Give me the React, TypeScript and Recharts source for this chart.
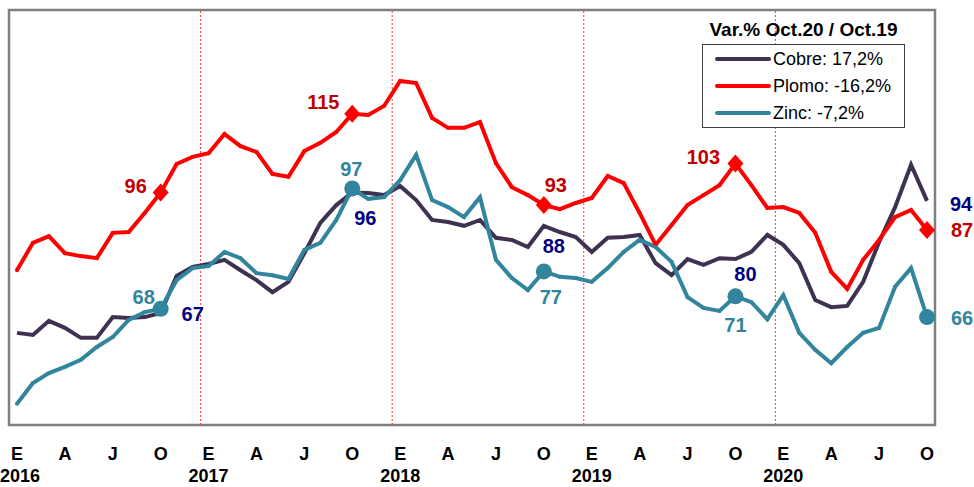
import React from "react";
import { LineChart, Line, XAxis, YAxis, ReferenceLine, ReferenceArea } from "recharts";

// Índices mensuales, enero 2016 - octubre 2020
const cobre = [
  62.2, 61.7, 65.1, 63.4, 61.0, 61.0, 66.0, 65.8, 66.0, 67,
  75.9, 78.1, 78.8, 79.8, 77.3, 74.9, 72.0, 74.5, 81.4, 88.7,
  93.0, 96, 95.9, 95.4, 97.6, 94.2, 89.4, 88.9, 88.0, 89.4,
  85.1, 84.6, 82.9, 88, 86.5, 85.3, 81.7, 85.1, 85.3, 85.8,
  79.0, 76.1, 80.0, 78.6, 80.2, 80, 81.7, 85.8, 83.4, 79.0,
  70.1, 68.4, 68.7, 74.5, 84.1, 92.5, 102.7, 94,
];
const plomo = [
  77.3, 83.9, 85.5, 81.4, 80.7, 80.2, 86.3, 86.5, 91.1, 96,
  102.9, 104.6, 105.5, 110.1, 107.2, 105.8, 100.5, 99.8, 106.0, 108.0,
  110.6, 115, 114.7, 116.9, 122.9, 122.4, 114.0, 111.6, 111.6, 113.0,
  103.1, 97.3, 95.4, 93, 92.0, 93.5, 94.7, 100.0, 98.3, 91.1,
  83.4, 88.2, 93.0, 95.4, 97.8, 103, 97.8, 92.3, 92.5, 91.1,
  86.3, 76.9, 72.8, 79.8, 84.6, 90.1, 91.8, 87,
];
const zinc = [
  45.1, 50.1, 52.5, 54.0, 55.7, 58.8, 61.2, 65.3, 67.2, 68,
  74.9, 77.8, 78.3, 81.7, 80.2, 76.6, 76.1, 75.2, 82.2, 83.9,
  89.4, 97, 94.5, 94.9, 99.0, 105.1, 94.2, 92.5, 90.1, 94.9,
  79.8, 75.4, 72.5, 77, 75.7, 75.4, 74.5, 77.8, 81.7, 84.6,
  82.9, 79.3, 70.8, 68.2, 67.5, 71, 69.6, 65.5, 71.3, 62.2,
  58.1, 54.9, 58.8, 62.2, 63.4, 73.3, 77.8, 66,
];

const letrasMes = ["E", "A", "J", "O"];
const anios = ["2016", "2017", "2018", "2019", "2020"];
const indicesOct = [9, 21, 33, 45, 57];
const tituloLeyenda = "Var.% Oct.20 / Oct.19";
const leyenda = ["Cobre: 17,2%", "Plomo: -16,2%", "Zinc: -7,2%"];

const data = cobre.map((c, i) => ({ i, cobre: c, plomo: plomo[i], zinc: zinc[i] }));
const ticks = data.filter((d) => d.i % 3 === 0).map((d) => d.i);
const cortesAnio = [11.5, 23.5, 35.5, 47.5];

const C_COBRE = "#3F3151";
const C_PLOMO = "#FF0000";
const C_ZINC = "#31859C";
const FONT = 'Arial, "Liberation Sans", sans-serif';

// desplazamiento de las etiquetas respecto al punto
const offCobre = [[32, 1], [13, 25], [10, 20], [10, 15], [34, 3]];
const offPlomo = [[-25, -7], [-29, -12], [12, -20], [-32, -7], [35, 0]];
const offZinc = [[-17, -12], [-1, -19], [7, 26], [0, 29], [35, 1]];

const etiqueta = (p: any, off: number[][], color: string) => {
  const k = indicesOct.indexOf(p.index);
  if (k < 0) return null;
  return (
    <text
      x={p.cx + off[k][0]}
      y={p.cy + off[k][1]}
      textAnchor="middle"
      dominantBaseline="central"
      fontFamily={FONT}
      fontWeight="bold"
      fontSize={20}
      fill={color}
    >
      {p.value}
    </text>
  );
};

const dotCobre = (p: any) => (
  <g key={`c-${p.index}`}>{etiqueta(p, offCobre, "#000080")}</g>
);

const dotPlomo = (p: any) => {
  const big = indicesOct.includes(p.index);
  return (
    <g key={`p-${p.index}`}>
      {big ? (
        <path
          d={`M${p.cx},${p.cy - 9} L${p.cx + 8},${p.cy} L${p.cx},${p.cy + 9} L${p.cx - 8},${p.cy} Z`}
          fill={C_PLOMO}
        />
      ) : (
        <circle cx={p.cx} cy={p.cy} r={2} fill={C_PLOMO} />
      )}
      {etiqueta(p, offPlomo, "#C00000")}
    </g>
  );
};

const dotZinc = (p: any) => {
  const big = indicesOct.includes(p.index);
  return (
    <g key={`z-${p.index}`}>
      <circle cx={p.cx} cy={p.cy} r={big ? 8 : 2} fill={C_ZINC} />
      {etiqueta(p, offZinc, C_ZINC)}
    </g>
  );
};

const EjeTick = (props: any) => {
  const { x, y, payload } = props;
  const i = payload.value as number;
  const anio = i % 12 === 0 ? anios[i / 12] : null;
  const primero = i === 0;
  return (
    <g fontFamily={FONT} fontWeight="bold" fontSize={18} fill="#000">
      <text x={x} y={y + 35} textAnchor="middle">
        {letrasMes[(i % 12) / 3]}
      </text>
      {anio && (
        <text x={primero ? 0 : x} y={y + 57} textAnchor={primero ? "start" : "middle"}>
          {anio}
        </text>
      )}
    </g>
  );
};

const colores = [C_COBRE, C_PLOMO, C_ZINC];

export default function App() {
  return (
    <div style={{ position: "absolute", left: 0, top: 0, width: 974, height: 487, background: "#fff" }}>
      <LineChart
        width={974}
        height={487}
        data={data}
        margin={{ top: 10, right: 39, left: 9, bottom: 0 }}
      >
        <XAxis
          dataKey="i"
          type="number"
          domain={[-0.5, 57.5]}
          ticks={ticks}
          interval={0}
          tick={<EjeTick />}
          tickLine={false}
          tickSize={0}
          tickMargin={0}
          axisLine={false}
          height={62}
        />
        <YAxis type="number" domain={[40, 140]} hide />
        {cortesAnio.map((x) => (
          <ReferenceLine key={x} x={x} stroke="#FF3333" strokeWidth={1} strokeDasharray="2 2" />
        ))}
        <ReferenceArea
          x1={-0.5}
          x2={57.5}
          y1={40}
          y2={140}
          fill="#fff"
          fillOpacity={0}
          stroke="#7F7F7F"
          strokeWidth={2.5}
        />
        <Line
          dataKey="cobre"
          stroke={C_COBRE}
          strokeWidth={4}
          dot={dotCobre}
          activeDot={false}
          isAnimationActive={false}
        />
        <Line
          dataKey="plomo"
          stroke={C_PLOMO}
          strokeWidth={4}
          dot={dotPlomo}
          activeDot={false}
          isAnimationActive={false}
        />
        <Line
          dataKey="zinc"
          stroke={C_ZINC}
          strokeWidth={4}
          dot={dotZinc}
          activeDot={false}
          isAnimationActive={false}
        />
      </LineChart>

      <div
        style={{
          position: "absolute",
          left: 690,
          top: 19,
          width: 227,
          textAlign: "center",
          fontFamily: FONT,
          fontWeight: "bold",
          fontSize: 19,
          lineHeight: "22px",
          color: "#000",
        }}
      >
        {tituloLeyenda}
      </div>
      <div
        style={{
          position: "absolute",
          left: 702,
          top: 44,
          width: 201,
          height: 82,
          border: "1px solid #404040",
          background: "#fff",
          fontFamily: FONT,
          fontSize: 18,
          color: "#000",
        }}
      >
        {leyenda.map((t, k) => (
          <div
            key={t}
            style={{ position: "absolute", left: 0, top: 2 + k * 27, height: 24, display: "flex", alignItems: "center" }}
          >
            <svg width={70} height={24}>
              <line x1={14} y1={12} x2={66} y2={12} stroke={colores[k]} strokeWidth={4} strokeLinecap="round" />
            </svg>
            <span style={{ lineHeight: "24px" }}>{t}</span>
          </div>
        ))}
      </div>
    </div>
  );
}
